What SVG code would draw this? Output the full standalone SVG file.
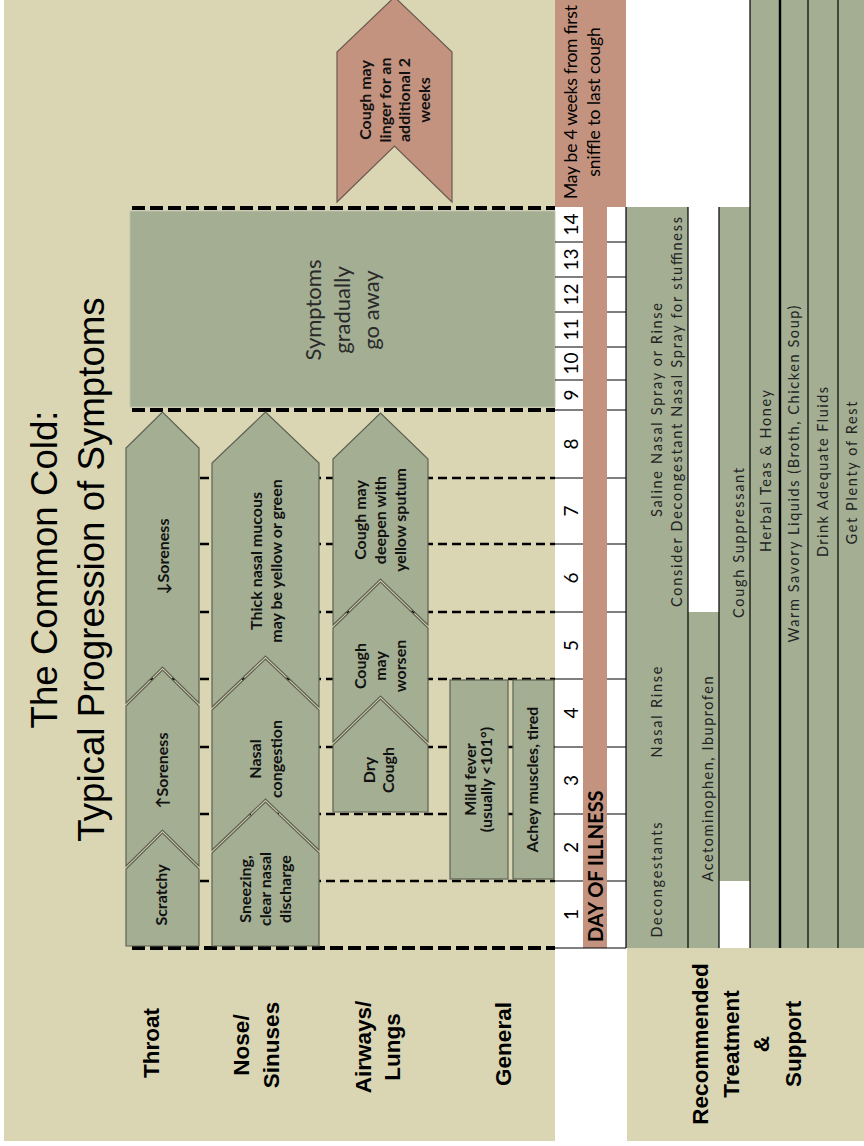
<svg xmlns="http://www.w3.org/2000/svg" width="864" height="1146" viewBox="0 0 864 1146">
<style>
.bg{fill:#DAD6B3}
.gr{fill:#A3AE93}
.sal{fill:#C4937F}
.chev{fill:#A3AE93;stroke:#5E6152;stroke-width:1.2}
.chevs{fill:#C4937F;stroke:#6B5A50;stroke-width:1.2}
.box{fill:#A3AE93;stroke:#5E6152;stroke-width:1.2}
.big{fill:#A3AE93;stroke:#BFC3AE;stroke-width:1}
.dT{stroke:#000;stroke-width:4;stroke-dasharray:13 5;fill:none}
.dt{stroke:#000;stroke-width:2.5;stroke-dasharray:9 5;fill:none}
.ln{stroke:#000;stroke-width:1.2;fill:none}
.title{font-family:'Liberation Sans',Arial,sans-serif;font-size:36.7px;fill:#000;text-anchor:middle}
.lab{font-family:'Liberation Sans',Arial,sans-serif;font-weight:bold;font-size:22.5px;fill:#000;text-anchor:middle}
.ct{font-family:Lato,'Liberation Sans',sans-serif;font-weight:bold;font-size:16px;fill:#111;text-anchor:middle}
.tt{font-family:Lato,'Liberation Sans',sans-serif;font-size:14.5px;fill:#222;text-anchor:middle}
.num{font-family:Lato,'Liberation Sans',sans-serif;font-size:19px;fill:#000;text-anchor:middle}
.big-t{font-family:Lato,'Liberation Sans',sans-serif;font-size:22px;fill:#2a2a2a;text-anchor:middle}
.note{font-family:Lato,'Liberation Sans',sans-serif;font-size:17.5px;fill:#000;text-anchor:middle}
.dayl{font-family:Lato,'Liberation Sans',sans-serif;font-weight:bold;font-size:20px;fill:#000}
</style>

<!-- backgrounds -->
<rect x="0" y="0" width="864" height="1146" fill="#fff"/>
<rect class="bg" x="4" y="0" width="551" height="1141"/>
<rect class="bg" x="627" y="948" width="237" height="193"/>

<!-- title -->
<g id="title">
<text class="title" transform="translate(57,569.5) rotate(-90)">The Common Cold:</text>
<text class="title" transform="translate(104,569.5) rotate(-90)">Typical Progression of Symptoms</text>
</g>

<!-- row labels -->
<g id="row-labels">
<text class="lab" transform="translate(159,1043) rotate(-90)">Throat</text>
<text class="lab" transform="translate(249,1045) rotate(-90)"><tspan x="0" y="0">Nose/</tspan><tspan x="0" y="30">Sinuses</tspan></text>
<text class="lab" transform="translate(371,1047) rotate(-90)"><tspan x="0" y="0">Airways/</tspan><tspan x="0" y="29">Lungs</tspan></text>
<text class="lab" transform="translate(511,1044) rotate(-90)">General</text>
<text class="lab" transform="translate(708,1044) rotate(-90)"><tspan x="0" y="0">Recommended</tspan><tspan x="0" y="31">Treatment</tspan><tspan x="0" y="61">&amp;</tspan><tspan x="0" y="93">Support</tspan></text>
</g>

<!-- grid / connector lines -->
<g id="gridlines">
<line class="dt" x1="130" y1="881" x2="555" y2="881"/>
<line class="dt" x1="130" y1="814" x2="555" y2="814"/>
<line class="dt" x1="130" y1="747" x2="555" y2="747"/>
<line class="dt" x1="130" y1="679" x2="555" y2="679"/>
<line class="dt" x1="130" y1="612" x2="555" y2="612"/>
<line class="dt" x1="130" y1="544" x2="555" y2="544"/>
<line class="dt" x1="130" y1="478" x2="555" y2="478"/>
<line class="dT" x1="132" y1="948" x2="555" y2="948"/>
<line class="dT" x1="132" y1="410" x2="555" y2="410"/>
<line class="dT" x1="132" y1="208" x2="555" y2="208"/>
</g>

<!-- later phase -->
<g id="node-gradually">
<rect class="big" x="130" y="211" width="425" height="196"/>
<text class="big-t" transform="translate(321,310) rotate(-90)"><tspan x="0" y="0">Symptoms</tspan><tspan x="0" y="29">gradually</tspan><tspan x="0" y="58">go away</tspan></text>
</g>

<!-- throat -->
<g id="node-scratchy">
<polygon class="chev" points="126,946 199,946 199,869 162.5,833 126,869"/>
<text class="ct" transform="translate(167,895) rotate(-90)">Scratchy</text>
</g>
<g id="node-soreness-up">
<polygon class="chev" points="126,866 162.5,830 199,866 199,706 162.5,670 126,706"/>
<text class="ct" transform="translate(168,770.5) rotate(-90)">↑Soreness</text>
</g>
<g id="node-soreness-down">
<polygon class="chev" points="126,703 162.5,667 199,703 199,448 162.5,412 126,448"/>
<text class="ct" transform="translate(169,556.5) rotate(-90)">↓Soreness</text>
</g>

<!-- nose -->
<g id="node-sneezing">
<polygon class="chev" points="212,946 319,946 319,853 265.5,802 212,853"/>
<text class="ct" transform="translate(251,889) rotate(-90)"><tspan x="0" y="0">Sneezing,</tspan><tspan x="0" y="20">clear nasal</tspan><tspan x="0" y="40">discharge</tspan></text>
</g>
<g id="node-congestion">
<polygon class="chev" points="212,850 265.5,799 319,850 319,710 265.5,659 212,710"/>
<text class="ct" transform="translate(261,759) rotate(-90)"><tspan x="0" y="0">Nasal</tspan><tspan x="0" y="21">congestion</tspan></text>
</g>
<g id="node-mucous">
<polygon class="chev" points="212,707 265.5,656 319,707 319,463 265.5,412 212,463"/>
<text class="ct" transform="translate(262,561) rotate(-90)"><tspan x="0" y="0">Thick nasal  mucous</tspan><tspan x="0" y="20">may be yellow or green</tspan></text>
</g>

<!-- airways -->
<g id="node-dry-cough">
<polygon class="chev" points="333,812 428,812 428,745 380.5,699 333,745"/>
<text class="ct" transform="translate(375,770) rotate(-90)"><tspan x="0" y="0">Dry</tspan><tspan x="0" y="19">Cough</tspan></text>
</g>
<g id="node-cough-worsen">
<polygon class="chev" points="333,742 380.5,696 428,742 428,628 380.5,582 333,628"/>
<text class="ct" transform="translate(366,666) rotate(-90)"><tspan x="0" y="0">Cough</tspan><tspan x="0" y="20">may</tspan><tspan x="0" y="40">worsen</tspan></text>
</g>
<g id="node-cough-deepen">
<polygon class="chev" points="333,625 380.5,579 428,625 428,459 380.5,413 333,459"/>
<text class="ct" transform="translate(366,520) rotate(-90)"><tspan x="0" y="0">Cough may</tspan><tspan x="0" y="20">deepen with</tspan><tspan x="0" y="40">yellow sputum</tspan></text>
</g>

<!-- general -->
<g id="node-fever">
<rect class="box" x="450" y="680" width="58" height="199"/>
<text class="ct" transform="translate(476,779.5) rotate(-90)"><tspan x="0" y="0">Mild fever</tspan><tspan x="0" y="16">(usually &lt;101°)</tspan></text>
</g>
<g id="node-achey">
<rect class="box" x="513" y="680" width="41" height="199"/>
<text class="ct" transform="translate(538,779.5) rotate(-90)">Achey muscles, tired</text>
</g>

<!-- lingering cough -->
<g id="node-linger">
<polygon class="chevs" points="337,202 394.5,146 452,202 452,52 394.5,-3 337,52"/>
<text class="ct" transform="translate(371,100) rotate(-90)"><tspan x="0" y="0">Cough may</tspan><tspan x="0" y="19.5">linger for an</tspan><tspan x="0" y="39">additional 2</tspan><tspan x="0" y="58.5">weeks</tspan></text>
</g>

<!-- day axis -->
<g id="day-axis">
<rect class="sal" x="555" y="0" width="71" height="207"/>
<rect class="sal" x="583" y="207" width="24" height="741"/>
<text class="note" transform="translate(577,102) rotate(-90)"><tspan x="0" y="0" textLength="194">May be 4 weeks from first</tspan><tspan x="0" y="23">sniffle to last cough</tspan></text>
<text class="dayl" transform="translate(603,942) rotate(-90)">DAY OF ILLNESS</text>
<g class="ln">
<line x1="555" y1="948" x2="626" y2="948"/>
<path d="M555 881H583M607 881H626M555 814H583M607 814H626M555 747H583M607 747H626M555 679H583M607 679H626M555 612H583M607 612H626M555 544H583M607 544H626M555 478H583M607 478H626M555 410H583M607 410H626M555 380H583M607 380H626M555 347H583M607 347H626M555 312H583M607 312H626M555 277H583M607 277H626M555 242H583M607 242H626"/>
</g>
<g class="num">
<text transform="translate(578,914.5) rotate(-90)">1</text>
<text transform="translate(578,847.5) rotate(-90)">2</text>
<text transform="translate(578,780.5) rotate(-90)">3</text>
<text transform="translate(578,713) rotate(-90)">4</text>
<text transform="translate(578,645.5) rotate(-90)">5</text>
<text transform="translate(578,578) rotate(-90)">6</text>
<text transform="translate(578,511) rotate(-90)">7</text>
<text transform="translate(578,444) rotate(-90)">8</text>
<text transform="translate(578,395) rotate(-90)">9</text>
<text transform="translate(578,363.5) rotate(-90)">10</text>
<text transform="translate(578,329.5) rotate(-90)">11</text>
<text transform="translate(578,294.5) rotate(-90)">12</text>
<text transform="translate(578,259.5) rotate(-90)">13</text>
<text transform="translate(578,224.5) rotate(-90)">14</text>
</g>
</g>

<!-- treatments -->
<g id="treatments">
<rect class="gr" x="626" y="207" width="62" height="741"/>
<rect class="gr" x="688" y="612" width="31" height="336"/>
<rect class="gr" x="719" y="207" width="31" height="674"/>
<rect class="gr" x="750" y="0" width="114" height="948"/>
<g class="ln">
<line x1="626" y1="207" x2="626" y2="948"/>
<line x1="688" y1="207" x2="688" y2="948"/>
<line x1="719" y1="207" x2="719" y2="948"/>
<line x1="750" y1="0" x2="750" y2="948"/>
<line x1="780" y1="0" x2="780" y2="948" stroke-width="2.4"/>
<line x1="808" y1="0" x2="808" y2="948"/>
<line x1="838" y1="0" x2="838" y2="948"/>
</g>
<text class="tt" transform="translate(662,880) rotate(-90)" textLength="115">Decongestants</text>
<text class="tt" transform="translate(662,712) rotate(-90)" textLength="91">Nasal Rinse</text>
<text class="tt" transform="translate(662,410) rotate(-90)" textLength="214">Saline Nasal Spray or Rinse</text>
<text class="tt" transform="translate(682,412) rotate(-90)" textLength="390">Consider Decongestant Nasal Spray for stuffiness</text>
<text class="tt" transform="translate(713,779) rotate(-90)" textLength="205">Acetominophen, Ibuprofen</text>
<text class="tt" transform="translate(744,543) rotate(-90)" textLength="150">Cough Suppressant</text>
<text class="tt" transform="translate(771,471) rotate(-90)" textLength="162">Herbal Teas &amp; Honey</text>
<text class="tt" transform="translate(799,474) rotate(-90)" textLength="337">Warm Savory Liquids (Broth, Chicken Soup)</text>
<text class="tt" transform="translate(828,472) rotate(-90)" textLength="170">Drink Adequate Fluids</text>
<text class="tt" transform="translate(857,473) rotate(-90)" textLength="143">Get Plenty of Rest</text>
</g>
</svg>
